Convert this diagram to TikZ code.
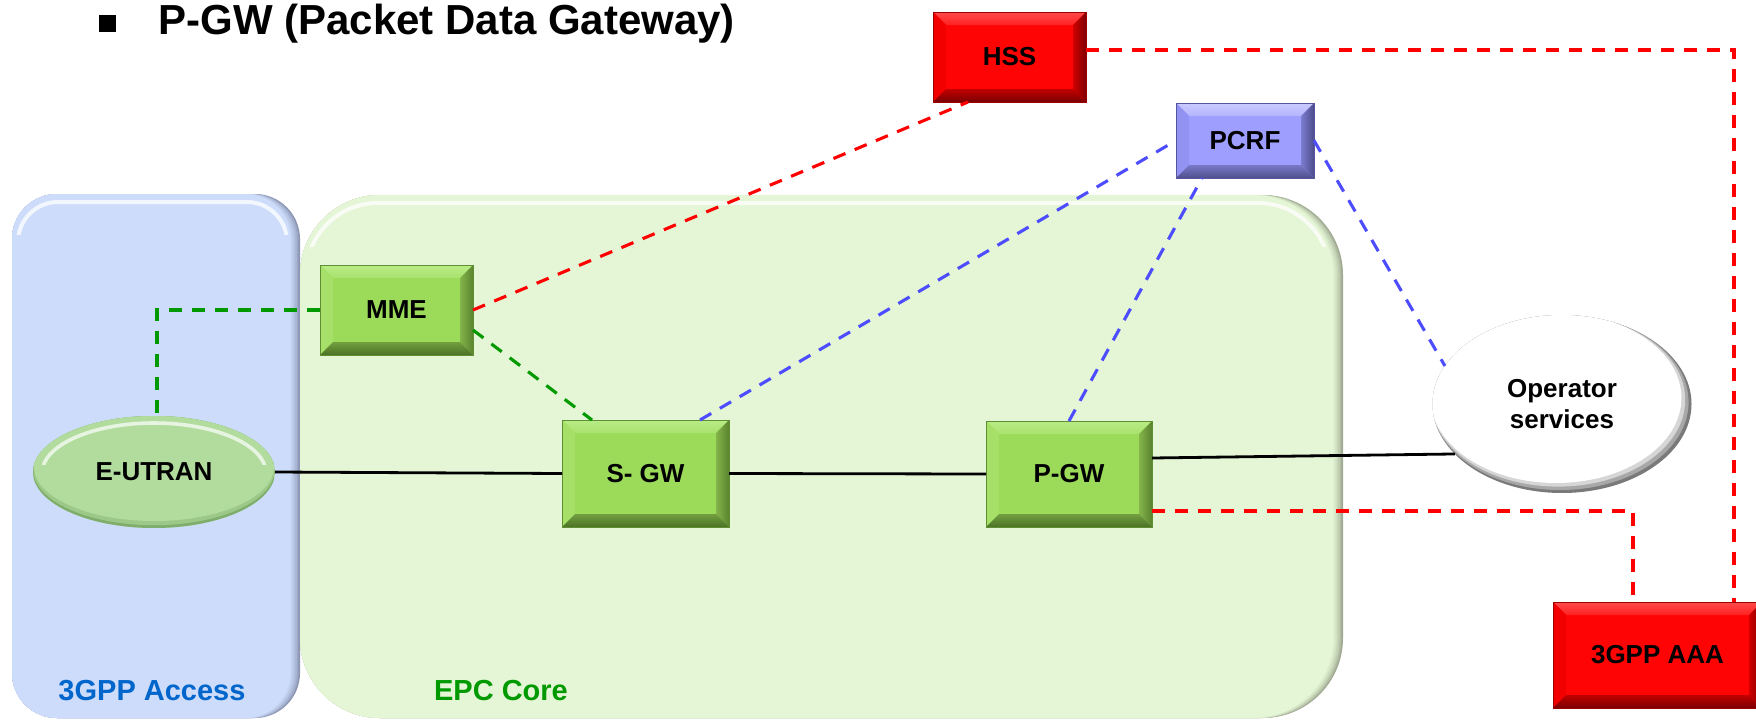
\documentclass[tikz,border=0pt]{standalone}
\usepackage{fontspec}
\setmainfont{Liberation Sans}
\usetikzlibrary{shapes.geometric}

% region colours
\definecolor{accBase}{HTML}{CCDCFA}
\definecolor{accShadow}{HTML}{8C96B4}
\definecolor{epcBase}{HTML}{E4F6D5}
\definecolor{epcShadow}{HTML}{A0AA92}
\definecolor{accText}{HTML}{0066CC}
\definecolor{epcText}{HTML}{009900}
% green bevel boxes
\definecolor{gBase}{HTML}{9CDA5A}
\definecolor{gLine}{HTML}{5F8E33}
\definecolor{gTopA}{HTML}{B9EC86}
\definecolor{gTopB}{HTML}{A8E26E}
\definecolor{gBotA}{HTML}{739F40}
\definecolor{gBotB}{HTML}{4C7226}
\definecolor{gLeft}{HTML}{A6E068}
\definecolor{gRightA}{HTML}{84B54A}
\definecolor{gRightB}{HTML}{5A832F}
% red bevel boxes
\definecolor{rBase}{HTML}{FF0404}
\definecolor{rLine}{HTML}{9A0000}
\definecolor{rTopA}{HTML}{FF4A4A}
\definecolor{rTopB}{HTML}{FF2222}
\definecolor{rBotA}{HTML}{C20000}
\definecolor{rBotB}{HTML}{7A0000}
\definecolor{rLeft}{HTML}{F20000}
\definecolor{rRightA}{HTML}{D00000}
\definecolor{rRightB}{HTML}{800000}
% purple bevel box
\definecolor{pBase}{HTML}{9E9EFF}
\definecolor{pLine}{HTML}{5656A0}
\definecolor{pTopA}{HTML}{CACAFF}
\definecolor{pTopB}{HTML}{B4B4FF}
\definecolor{pBotA}{HTML}{7878C8}
\definecolor{pBotB}{HTML}{50508E}
\definecolor{pLeft}{HTML}{9292F2}
\definecolor{pRightA}{HTML}{7C7CD0}
\definecolor{pRightB}{HTML}{4C4C8C}
% ovals
\definecolor{euBase}{HTML}{B2DC9E}
\definecolor{euMid}{HTML}{9CC888}
\definecolor{euRim}{HTML}{7FAE6C}
\definecolor{opRim}{HTML}{7A7A7A}
\definecolor{opMid}{HTML}{A8A8A8}
\definecolor{opLight}{HTML}{D6D6D6}
% links
\definecolor{sigGreen}{HTML}{009900}
\definecolor{sigBlue}{HTML}{4D4DFF}
\definecolor{sigRed}{HTML}{FF0000}

\newcommand{\lblfont}{\bfseries\fontsize{13}{15.5}\selectfont}
\newcommand{\regfont}{\bfseries\fontsize{14.5}{17}\selectfont}
\newcommand{\titlefont}{\bfseries\fontsize{21}{25}\selectfont}
\def\bevw{6.5pt}

\tikzset{
  bevel/.style={rectangle, inner sep=0pt, outer sep=0pt, fill=#1Base, draw=#1Line,
    line width=0.5pt, font=\lblfont,
    path picture={
      \coordinate (bvNW) at (path picture bounding box.north west);
      \coordinate (bvNE) at (path picture bounding box.north east);
      \coordinate (bvSW) at (path picture bounding box.south west);
      \coordinate (bvSE) at (path picture bounding box.south east);
      \shade[top color=#1TopA, bottom color=#1TopB] (bvNW) -- (bvNE)
        -- ([shift={(-\bevw,-\bevw)}]bvNE) -- ([shift={(\bevw,-\bevw)}]bvNW) -- cycle;
      \fill[#1Left] (bvNW) -- ([shift={(\bevw,-\bevw)}]bvNW)
        -- ([shift={(\bevw,\bevw)}]bvSW) -- (bvSW) -- cycle;
      \shade[left color=#1RightA, right color=#1RightB] (bvNE) -- (bvSE)
        -- ([shift={(-\bevw,\bevw)}]bvSE) -- ([shift={(-\bevw,-\bevw)}]bvNE) -- cycle;
      \shade[top color=#1BotA, bottom color=#1BotB] (bvSW) -- (bvSE)
        -- ([shift={(-\bevw,\bevw)}]bvSE) -- ([shift={(\bevw,\bevw)}]bvSW) -- cycle;
    }},
  wire/.style={black, line width=1.4pt},
  sig/.style={line width=1.55pt, dash pattern=on 6.5pt off 5pt},
  reglabel/.style={font=\regfont, inner sep=0pt},
}

\begin{document}
\begin{tikzpicture}[x=0.5pt, y=0.5pt]
\useasboundingbox (0,0) rectangle (1756,720);

% 3GPP access region, shaded towards its right edge
\foreach \k/\mix in {0/0,1/25,2/45,3/62,4/76,5/88,6/100} {
  \fill[rounded corners=22.5pt, accBase!\mix!accShadow] (12,2) rectangle ({300-1.6*\k},526);
}
\begin{scope}
  \clip (12,486) rectangle (300,526);
  \draw[white, opacity=.75, line width=2pt, rounded corners=20pt] (18,10) rectangle (287,518);
\end{scope}

% EPC core region, shaded towards its right edge
\foreach \k/\mix in {0/0,1/25,2/45,3/62,4/76,5/88,6/100} {
  \fill[rounded corners=40pt, epcBase!\mix!epcShadow] (300,2) rectangle ({1343-1.6*\k},525);
}
\begin{scope}
  \clip (300,474) rectangle (1343,525);
  \draw[white, opacity=.75, line width=2pt, rounded corners=36pt] (306,10) rectangle (1330,517);
\end{scope}

% heading
\node[fill=black, minimum size=8.5pt, inner sep=0pt] (bullet) at (107,696.5) {};
\node[anchor=base west, inner sep=0pt, font=\titlefont] (title) at (158,686) {P-GW (Packet Data Gateway)};

% network elements
\node[bevel=g, minimum width=76.5pt, minimum height=45pt] (mme) at (396.5,410) {MME};
\node[bevel=g, minimum width=83.5pt, minimum height=53.5pt] (sgw) at (645.5,246.5) {S- GW};
\node[bevel=g, minimum width=83pt, minimum height=53pt] (pgw) at (1069,246) {P-GW};
\node[bevel=r, minimum width=76.5pt, minimum height=45pt] (hss) at (1009.5,663) {HSS};
\node[bevel=p, minimum width=69pt, minimum height=37.5pt] (pcrf) at (1245,579.5) {PCRF};
\node[bevel=r, minimum width=104.5pt, minimum height=53pt] (aaa) at (1657.5,65) {3GPP AAA};

\node[ellipse, minimum width=121pt, minimum height=56pt, inner sep=0pt, outer sep=0pt,
  fill=euBase, font=\lblfont,
  path picture={
    \fill[euRim] (path picture bounding box.south west) rectangle (path picture bounding box.north east);
    \fill[euMid] ([yshift=1pt]path picture bounding box.center) ellipse [x radius=60.3pt, y radius=27.6pt];
    \fill[euBase] ([yshift=2.5pt]path picture bounding box.center) ellipse [x radius=60pt, y radius=27pt];
    \begin{scope}
      \clip ([yshift=4pt]path picture bounding box.west) rectangle (path picture bounding box.north east);
      \draw[white, opacity=.7, line width=1.8pt] ([yshift=-0.5pt]path picture bounding box.center)
        ellipse [x radius=56pt, y radius=25pt];
    \end{scope}
  }] (eutran) at (154,248) {E-UTRAN};

\node[ellipse, minimum width=129.5pt, minimum height=89pt, inner sep=0pt, outer sep=0pt,
  fill=white, font=\lblfont, align=center,
  path picture={
    \fill[opRim] (path picture bounding box.south west) rectangle (path picture bounding box.north east);
    \fill[opMid] ([shift={(-1pt,1pt)}]path picture bounding box.center) ellipse [x radius=64.3pt, y radius=44pt];
    \fill[opLight] ([shift={(-2pt,2pt)}]path picture bounding box.center) ellipse [x radius=63.6pt, y radius=43.3pt];
    \fill[white] ([shift={(-3pt,3pt)}]path picture bounding box.center) ellipse [x radius=62.7pt, y radius=42.5pt];
  }] (op) at (1562,316) {Operator\\services};

% region captions
\node[reglabel, text=accText] (acclbl) at (152,29) {3GPP Access};
\node[reglabel, text=epcText] (epclbl) at (501,29) {EPC Core};

% user plane
\draw[wire] (eutran.east) -- (sgw.west);
\draw[wire] (sgw.east) -- (pgw.west);
\draw[wire] ([yshift=8pt]pgw.east) -- (op.205);

% control plane
\draw[sig, sigGreen] (mme.west) -| ([xshift=1.5pt]eutran.north);
\draw[sig, sigGreen] ([yshift=-10pt]mme.east) -- ([xshift=-26.75pt]sgw.north);
\draw[sig, sigRed] (mme.east) -- ([xshift=-20.75pt]hss.south);
\draw[sig, sigBlue] ([xshift=27.25pt]sgw.north) -- (pcrf.west);
\draw[sig, sigBlue] (pgw.north) -- ([xshift=-21.5pt]pcrf.south);
\draw[sig, sigBlue] (pcrf.east) -- (op.162);
\draw[sig, sigRed] ([yshift=3.5pt]hss.east) -| ([xshift=38.25pt]aaa.north);
\draw[sig, sigRed] ([yshift=-18.5pt]pgw.east) -| ([xshift=-12.25pt]aaa.north);
\end{tikzpicture}
\end{document}
